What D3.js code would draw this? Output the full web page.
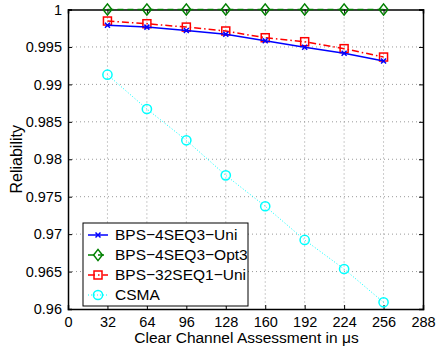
<!DOCTYPE html>
<html>
<head>
<meta charset="utf-8">
<script src="https://cdn.jsdelivr.net/npm/d3@7"></script>
<style>
  body { margin: 0; background: #fff; }
  svg text { font-family: "Liberation Sans", Arial, Helvetica, sans-serif; }
</style>
</head>
<body>
<div id="chart"></div>
<script>
// CCA duration (microseconds)
const ccaTimes = [32, 64, 96, 128, 160, 192, 224, 256];

// reliability per scheme
const uni4 = [0.9979, 0.99765, 0.9972, 0.99669, 0.99583, 0.99495, 0.99415, 0.99312];
const opt4 = [1.0, 1.0, 1.0, 1.0, 1.0, 1.0, 1.0, 1.0];
const uni32 = [0.99846, 0.9981, 0.99765, 0.99713, 0.99623, 0.9957, 0.99477, 0.99365];
const csma = [0.99129, 0.98671, 0.98253, 0.97785, 0.97372, 0.96922, 0.96534, 0.96089];

const xTicks = [0, 32, 64, 96, 128, 160, 192, 224, 256, 288];
const yTicks = [0.96, 0.965, 0.97, 0.975, 0.98, 0.985, 0.99, 0.995, 1];

const seriesNames = ['BPS\u22124SEQ3\u2212Uni', 'BPS\u22124SEQ3\u2212Opt3', 'BPS\u221232SEQ1\u2212Uni', 'CSMA'];

const W = 436, H = 348;
const margin = { left: 68, top: 9.5, right: 13, bottom: 39 };
const iw = W - margin.left - margin.right;
const ih = H - margin.top - margin.bottom;

const svg = d3.select('#chart').append('svg')
    .attr('width', W)
    .attr('height', H);

const x = d3.scaleLinear().domain([0, 288]).range([0, iw]);
const y = d3.scaleLinear().domain([0.96, 1]).range([ih, 0]);

const g = svg.append('g').attr('transform', `translate(${margin.left},${margin.top})`);

// dotted grid
g.append('g').selectAll('line').data(xTicks.slice(1, -1)).enter()
    .append('line')
    .attr('x1', d => x(d)).attr('x2', d => x(d))
    .attr('y1', 0).attr('y2', ih)
    .attr('stroke', '#999').attr('stroke-width', 1)
    .attr('stroke-dasharray', '1,3');
g.append('g').selectAll('line').data(yTicks.slice(1, -1)).enter()
    .append('line')
    .attr('x1', 0).attr('x2', iw)
    .attr('y1', d => y(d)).attr('y2', d => y(d))
    .attr('stroke', '#999').attr('stroke-width', 1)
    .attr('stroke-dasharray', '1,3');

// axes, matlab style: ticks inward, box around
const fmtY = d => d === 1 ? '1' : d3.format('')(+d.toFixed(3));
const xAxis = g.append('g').attr('transform', `translate(0,${ih})`)
    .call(d3.axisBottom(x).tickValues(xTicks).tickSize(-4).tickPadding(8).tickFormat(d3.format('d')));
const yAxis = g.append('g')
    .call(d3.axisLeft(y).tickValues(yTicks).tickSize(-4).tickPadding(6).tickFormat(fmtY));
g.append('g').attr('transform', `translate(${iw},0)`)
    .call(d3.axisRight(y).tickValues(yTicks).tickSize(-4).tickFormat(''));
g.append('g')
    .call(d3.axisTop(x).tickValues(xTicks).tickSize(-4).tickFormat(''));

[xAxis, yAxis].forEach(a => a.selectAll('text')
    .attr('font-size', '14.5px')
    .attr('fill', '#000')
    .style('font-family', '"Liberation Sans", Arial, sans-serif'));
g.selectAll('.domain').attr('stroke', '#000').attr('stroke-width', 1.5);
g.selectAll('.tick line').attr('stroke', '#000');

// series
const series = [
    { name: seriesNames[0], values: uni4, color: '#0000ff', dash: null, marker: 'x' },
    { name: seriesNames[1], values: opt4, color: '#008000', dash: '6,4', marker: 'diamond' },
    { name: seriesNames[2], values: uni32, color: '#ff0000', dash: '7,3,1.5,3', marker: 'square' },
    { name: seriesNames[3], values: csma, color: '#00ffff', dash: '1,2', marker: 'circle' }
];

const line = d3.line().x(d => x(d[0])).y(d => y(d[1]));

function drawMarker(sel, type, color, s) {
    if (type === 'x') {
        sel.append('path')
            .attr('d', `M${-s},${-s}L${s},${s}M${-s},${s}L${s},${-s}`)
            .attr('stroke', color).attr('stroke-width', 1.5).attr('fill', 'none');
    } else if (type === 'diamond') {
        sel.append('path')
            .attr('d', `M0,${-s * 1.4}L${s * 1.1},0L0,${s * 1.4}L${-s * 1.1},0Z`)
            .attr('stroke', color).attr('stroke-width', 1.5).attr('fill', 'none');
    } else if (type === 'square') {
        sel.append('rect')
            .attr('x', -s).attr('y', -s).attr('width', 2 * s).attr('height', 2 * s)
            .attr('stroke', color).attr('stroke-width', 1.5).attr('fill', 'none');
    } else {
        sel.append('circle').attr('r', s * 1.15)
            .attr('stroke', color).attr('stroke-width', 1.5).attr('fill', 'none');
    }
}

const plot = g.append('g');
// draw csma first so others sit on top
series.slice().reverse().forEach(s => {
    const pts = ccaTimes.map((t, i) => [t, s.values[i]]);
    plot.append('path')
        .datum(pts)
        .attr('d', line)
        .attr('fill', 'none')
        .attr('stroke', s.color)
        .attr('stroke-width', s.marker === 'circle' ? 1 : 1.5)
        .attr('stroke-dasharray', s.dash);
    pts.forEach(p => {
        const m = plot.append('g').attr('transform', `translate(${x(p[0])},${y(p[1])})`);
        drawMarker(m, s.marker, s.color, s.marker === 'x' ? 2.5 : 4);
    });
});

// legend
const legend = svg.append('g').attr('transform', 'translate(83,223)');
legend.append('rect')
    .attr('width', 165).attr('height', 83)
    .attr('fill', '#fff').attr('stroke', '#000').attr('stroke-width', 1);
series.forEach((s, i) => {
    const row = legend.append('g').attr('transform', `translate(0,${12 + i * 20})`);
    row.append('line')
        .attr('x1', 5).attr('x2', 25)
        .attr('stroke', s.color)
        .attr('stroke-width', s.marker === 'circle' ? 1 : 1.5)
        .attr('stroke-dasharray', s.dash);
    const m = row.append('g').attr('transform', 'translate(15,0)');
    drawMarker(m, s.marker, s.color, s.marker === 'x' ? 2.5 : 4);
    row.append('text')
        .attr('x', 32).attr('y', 0).attr('dy', '0.35em')
        .attr('font-size', '15.5px')
        .text(s.name);
});

// axis titles
svg.append('text')
    .attr('x', margin.left + iw / 2 + 1).attr('y', H - 5)
    .attr('text-anchor', 'middle')
    .attr('font-size', '15.5px')
    .text('Clear Channel Assessment in \u03bcs');
svg.append('text')
    .attr('transform', `translate(22,${margin.top + ih / 2}) rotate(-90)`)
    .attr('text-anchor', 'middle')
    .attr('font-size', '16px')
    .text('Reliability');
</script>
</body>
</html>
